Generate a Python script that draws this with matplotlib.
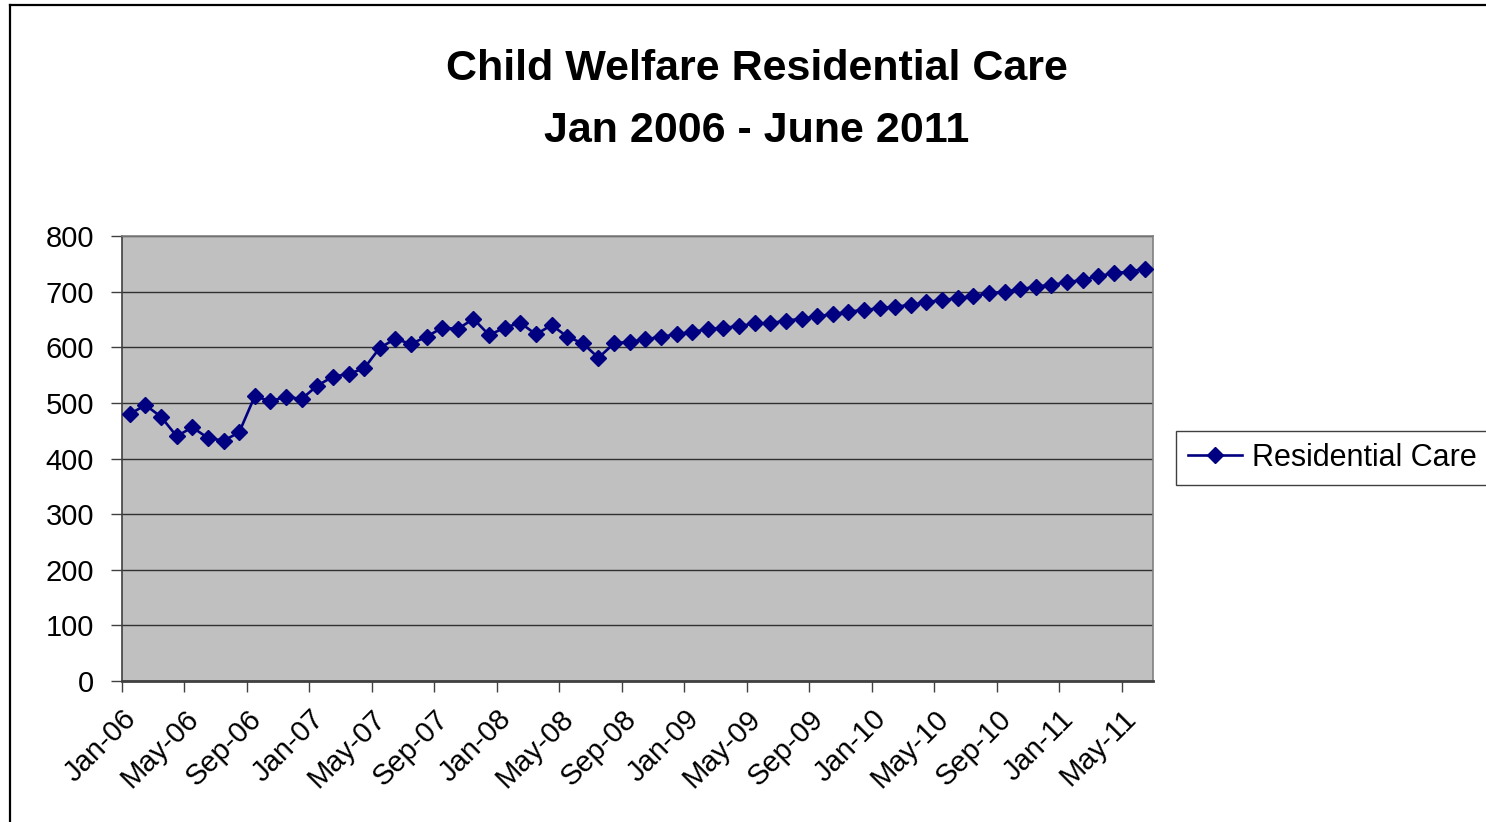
import matplotlib
matplotlib.use("Agg")
import matplotlib.pyplot as plt
from matplotlib import font_manager
from matplotlib.lines import Line2D

# Monthly counts of children in residential care, Jan 2006 - Jun 2011
residential_care = [
    480, 496, 475, 440, 456, 437, 432, 447, 512, 503, 511, 507,
    531, 547, 552, 562, 599, 615, 606, 619, 635, 633, 651, 622,
    635, 644, 623, 640, 619, 607, 581, 607, 610, 614, 619, 623,
    628, 632, 635, 638, 643, 643, 648, 651, 656, 659, 664, 667,
    670, 673, 676, 681, 685, 688, 692, 697, 700, 704, 709, 712,
    717, 721, 728, 733, 736, 741,
]

tick_labels = [
    "Jan-06", "May-06", "Sep-06", "Jan-07", "May-07", "Sep-07",
    "Jan-08", "May-08", "Sep-08", "Jan-09", "May-09", "Sep-09",
    "Jan-10", "May-10", "Sep-10", "Jan-11", "May-11",
]
y_ticks = [0, 100, 200, 300, 400, 500, 600, 700, 800]
label_step = 4

W, H = 1486, 822
installed = {f.name for f in font_manager.fontManager.ttflist}
base_font = "Liberation Sans" if "Liberation Sans" in installed else "DejaVu Sans"
if "Liberation Sans Narrow" in installed:
    title_font, title_size = "Liberation Sans Narrow", 36
else:
    title_font, title_size = base_font, 31

plt.rcParams["font.family"] = [base_font, "DejaVu Sans"]

fig = plt.figure(figsize=(W / 100, H / 100), dpi=100)
fig.patch.set_facecolor("white")

# plot area in pixel units
left, right, top, bottom = 122, 1153, 236, 681
ax = fig.add_axes([left / W, 1 - bottom / H, (right - left) / W, (bottom - top) / H])
ax.set_facecolor("#C0C0C0")

x = list(range(len(residential_care)))
ax.plot(x, residential_care, color="#000080", lw=1.9, marker="D",
        markersize=8.4, markeredgecolor="#000080", markerfacecolor="#000080",
        label="Residential Care", zorder=3)

ax.set_xlim(-0.5, len(residential_care) - 0.5)
ax.set_ylim(0, 800)

ax.set_yticks(y_ticks)
ax.set_yticklabels([str(v) for v in y_ticks])
ax.yaxis.grid(True, color="#303030", lw=1.0)
ax.set_axisbelow(True)

tick_pos = [i - 0.5 for i in range(0, len(residential_care), label_step)]
ax.set_xticks(tick_pos)
ax.set_xticklabels(tick_labels[:len(tick_pos)], rotation=45, ha="right",
                   rotation_mode="anchor")

ax.tick_params(axis="y", direction="out", length=8, width=1,
               color="#404040", pad=12, labelsize=21)
ax.tick_params(axis="x", direction="out", length=8, width=1,
               color="#404040", pad=9, labelsize=21)

for side in ("top", "right"):
    ax.spines[side].set_color("#808080")
    ax.spines[side].set_linewidth(1.2)
ax.spines["left"].set_color("#404040")
ax.spines["left"].set_linewidth(1.2)
ax.spines["bottom"].set_color("#404040")
ax.spines["bottom"].set_linewidth(2)

# chart title
fig.text(757 / W, 1 - 80 / H, "Child Welfare Residential Care",
         ha="center", va="baseline", fontsize=title_size, fontweight="bold",
         family=[title_font, "DejaVu Sans"])
fig.text(757 / W, 1 - 142 / H, "Jan 2006 - June 2011",
         ha="center", va="baseline", fontsize=title_size, fontweight="bold",
         family=[title_font, "DejaVu Sans"])

# legend
leg = fig.legend(loc="center left", bbox_to_anchor=(1176 / W, 1 - 458 / H),
                 frameon=True, fancybox=False, framealpha=1,
                 edgecolor="#404040", borderpad=0.4, handlelength=1.75,
                 handletextpad=0.35, borderaxespad=0, fontsize=22)
leg.get_frame().set_linewidth(1.0)

# chart frame
fig.add_artist(Line2D([10 / W, 10 / W], [0, 1 - 5 / H], transform=fig.transFigure,
                      color="black", lw=1.6))
fig.add_artist(Line2D([10 / W, 1], [1 - 5 / H, 1 - 5 / H], transform=fig.transFigure,
                      color="black", lw=1.6))

fig.savefig("out.png", dpi=100)
